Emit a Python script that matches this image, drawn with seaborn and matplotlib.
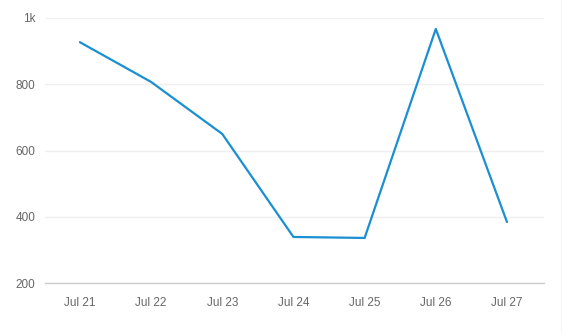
import matplotlib
matplotlib.use("Agg")
import matplotlib.pyplot as plt
import seaborn as sns
import pandas as pd

dates = ["Jul 21", "Jul 22", "Jul 23", "Jul 24", "Jul 25", "Jul 26", "Jul 27"]
values = [927, 807, 650, 339, 336, 967, 384]
y_ticks = [200, 400, 600, 800, 1000]
y_labels = ["200", "400", "600", "800", "1k"]

df = pd.DataFrame({"date": dates, "value": values})
df["pos"] = range(len(dates))

sns.set_style("white")
plt.rcParams["font.family"] = ["Liberation Sans", "DejaVu Sans"]

fig = plt.figure(figsize=(5.62, 3.33), dpi=100)
ax = fig.add_axes([45/562, 1-283/333, (544-45)/562, (283-18)/333])

sns.lineplot(data=df, x="pos", y="value", ax=ax, color="#1a8fd2", linewidth=1.6)

ax.set_xlim(-0.49, 6.52)
ax.set_ylim(200, 1000)
ax.set_xticks(range(len(dates)))
ax.set_xticklabels(dates)
ax.set_yticks(y_ticks)
ax.set_yticklabels(y_labels)
ax.set_xlabel("")
ax.set_ylabel("")

ax.grid(axis="y", color="#efefef", linewidth=1)
ax.set_axisbelow(True)
for s in ["top", "right", "left"]:
    ax.spines[s].set_visible(False)
ax.spines["bottom"].set_color("#cccccc")
ax.spines["bottom"].set_linewidth(1)

ax.tick_params(axis="x", colors="#666666", labelsize=8.5, length=5, width=1, pad=5)
ax.tick_params(axis="x", color="#cccccc")
ax.tick_params(axis="y", colors="#666666", labelsize=8.5, length=0, pad=7)

fig.add_artist(plt.Line2D([561.5/562, 561.5/562], [0, 1], color="#cccccc", linewidth=1))

fig.savefig("out.png", dpi=100)
